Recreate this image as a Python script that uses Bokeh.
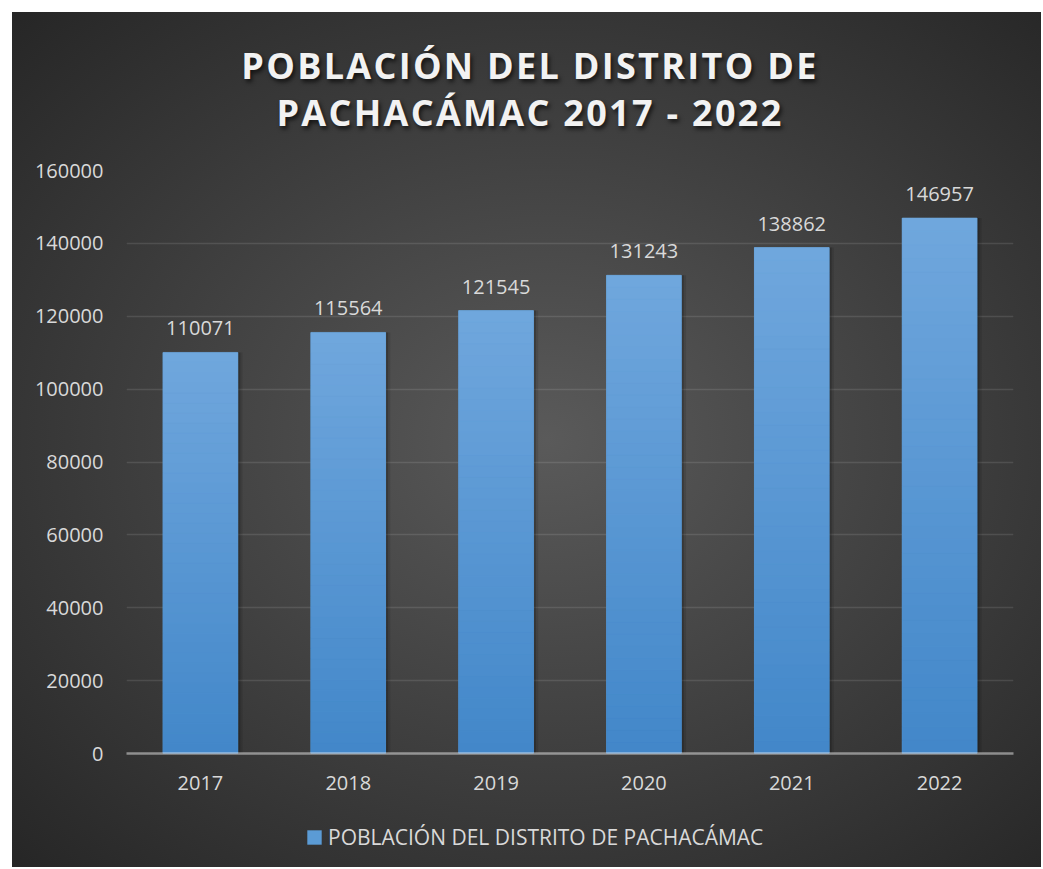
from bokeh.plotting import figure
from bokeh.layouts import column
from bokeh.models import (ColumnDataSource, FixedTicker, NumeralTickFormatter, LabelSet,
                          Legend, LegendItem, Range1d, Div)
from bokeh.core.properties import value
from bokeh.transform import dodge
from bokeh.embed import file_html
from bokeh.resources import INLINE

# ---- data ----
years = ["2017", "2018", "2019", "2020", "2021", "2022"]
population = [110071, 115564, 121545, 131243, 138862, 146957]
y_ticks = [0, 20000, 40000, 60000, 80000, 100000, 120000, 140000, 160000]
title_lines = ["POBLACIÓN DEL DISTRITO DE", "PACHACÁMAC 2017 - 2022"]
series_name = "POBLACIÓN DEL DISTRITO DE PACHACÁMAC"

FONT = "Open Sans"
TXT = "#d9d9d9"
BAR = "#5b9bd5"
W = 1029

# ---- title block ----
title_html = (
    "<div style=\"width:%dpx; padding-left:15px; text-align:center; font-family:'Open Sans'; "
    "font-weight:bold; font-size:36px; letter-spacing:2.3px; line-height:47px; color:#f2f2f2; "
    "padding-top:30px; text-shadow:2px 3px 4px rgba(0,0,0,0.65);\">%s</div>"
    % (W - 8, "<br>".join(title_lines))
)
title_div = Div(text=title_html, width=W, height=146, margin=0)

# ---- main chart ----
p = figure(x_range=years, y_range=Range1d(0, 160000), frame_width=887, frame_height=583,
           output_backend="svg", toolbar_location=None,
           min_border_left=114, min_border_right=28, min_border_top=12, min_border_bottom=58,
           margin=0)
p.border_fill_color = None
p.background_fill_color = None
p.outline_line_color = None

p.xgrid.grid_line_color = None
p.ygrid.grid_line_color = "#ffffff"
p.ygrid.grid_line_alpha = 0.11
p.ygrid.grid_line_width = 1.5
p.yaxis.ticker = FixedTicker(ticks=y_ticks)
p.yaxis.formatter = NumeralTickFormatter(format="0")

for ax in (p.xaxis[0], p.yaxis[0]):
    ax.major_label_text_font = FONT
    ax.major_label_text_font_size = "20px"
    ax.major_label_text_color = TXT
    ax.major_tick_line_color = None
    ax.minor_tick_line_color = None
    ax.major_tick_out = 0
    ax.major_tick_in = 0

p.yaxis.axis_line_color = None
p.yaxis.major_label_standoff = 23
p.xaxis.axis_line_color = "#ffffff"
p.xaxis.axis_line_alpha = 0.45
p.xaxis.axis_line_width = 2.5
p.xaxis.major_label_standoff = 22

src = ColumnDataSource(dict(year=years, value=population,
                            label=[str(v) for v in population]))

# soft shadow
p.vbar(x=dodge("year", 0.03, range=p.x_range), top="value", width=0.51, source=src,
       fill_color="black", fill_alpha=0.10, line_color=None)
p.vbar(x=dodge("year", 0.015, range=p.x_range), top="value", width=0.51, source=src,
       fill_color="black", fill_alpha=0.18, line_color=None)

# base bar
p.vbar(x="year", top="value", width=0.51, source=src, fill_color=BAR, line_color=None)

# vertical gradient slices per bar
N = 40
bot_c = (66, 135, 201)
top_c = (112, 167, 221)
sx, sb, st, sc = [], [], [], []
for yr, v in zip(years, population):
    for k in range(N):
        t = (k + 0.5) / N
        c = tuple(int(round(bot_c[j] + (top_c[j] - bot_c[j]) * t)) for j in range(3))
        sx.append(yr)
        sb.append(v * k / N)
        st.append(v * (k + 1) / N)
        sc.append("#%02x%02x%02x" % c)
p.vbar(x=sx, bottom=sb, top=st, width=0.505, fill_color=sc, line_color=sc, line_width=0.6)

labels = LabelSet(x="year", y="value", text="label", source=src, text_align="center",
                  text_baseline="alphabetic", y_offset=17, text_font=value(FONT),
                  text_font_size=value("20px"), text_color=TXT)
p.add_layout(labels)

# ---- legend strip ----
p2 = figure(width=W, height=56, x_axis_type=None, y_axis_type=None,
            x_range=Range1d(0, 1), y_range=Range1d(0, 1),
            output_backend="svg", toolbar_location=None, min_border=0, margin=0)
p2.border_fill_color = None
p2.background_fill_color = None
p2.outline_line_color = None
p2.grid.visible = False
# zero-height bar: only supplies the legend swatch
swatch = p2.vbar(x=[0.5], bottom=[0], top=[0], width=0.0, fill_color=BAR, line_color=None)
legend = Legend(items=[LegendItem(label=series_name, renderers=[swatch])],
                location=(179, 16), orientation="horizontal",
                background_fill_color=None, background_fill_alpha=0, border_line_color=None,
                glyph_width=18, glyph_height=18, label_standoff=5, padding=0, margin=0,
                label_text_font=FONT, label_text_font_size="21px", label_text_color=TXT)
p2.add_layout(legend)

layout = column(title_div, p, p2, spacing=0, margin=(12, 0, 0, 12),
                styles={"background": "radial-gradient(ellipse farthest-corner at 52% 50%, #5a5a5a 0%, #262626 100%)"})

open("out.html", "w").write(file_html(layout, INLINE))
